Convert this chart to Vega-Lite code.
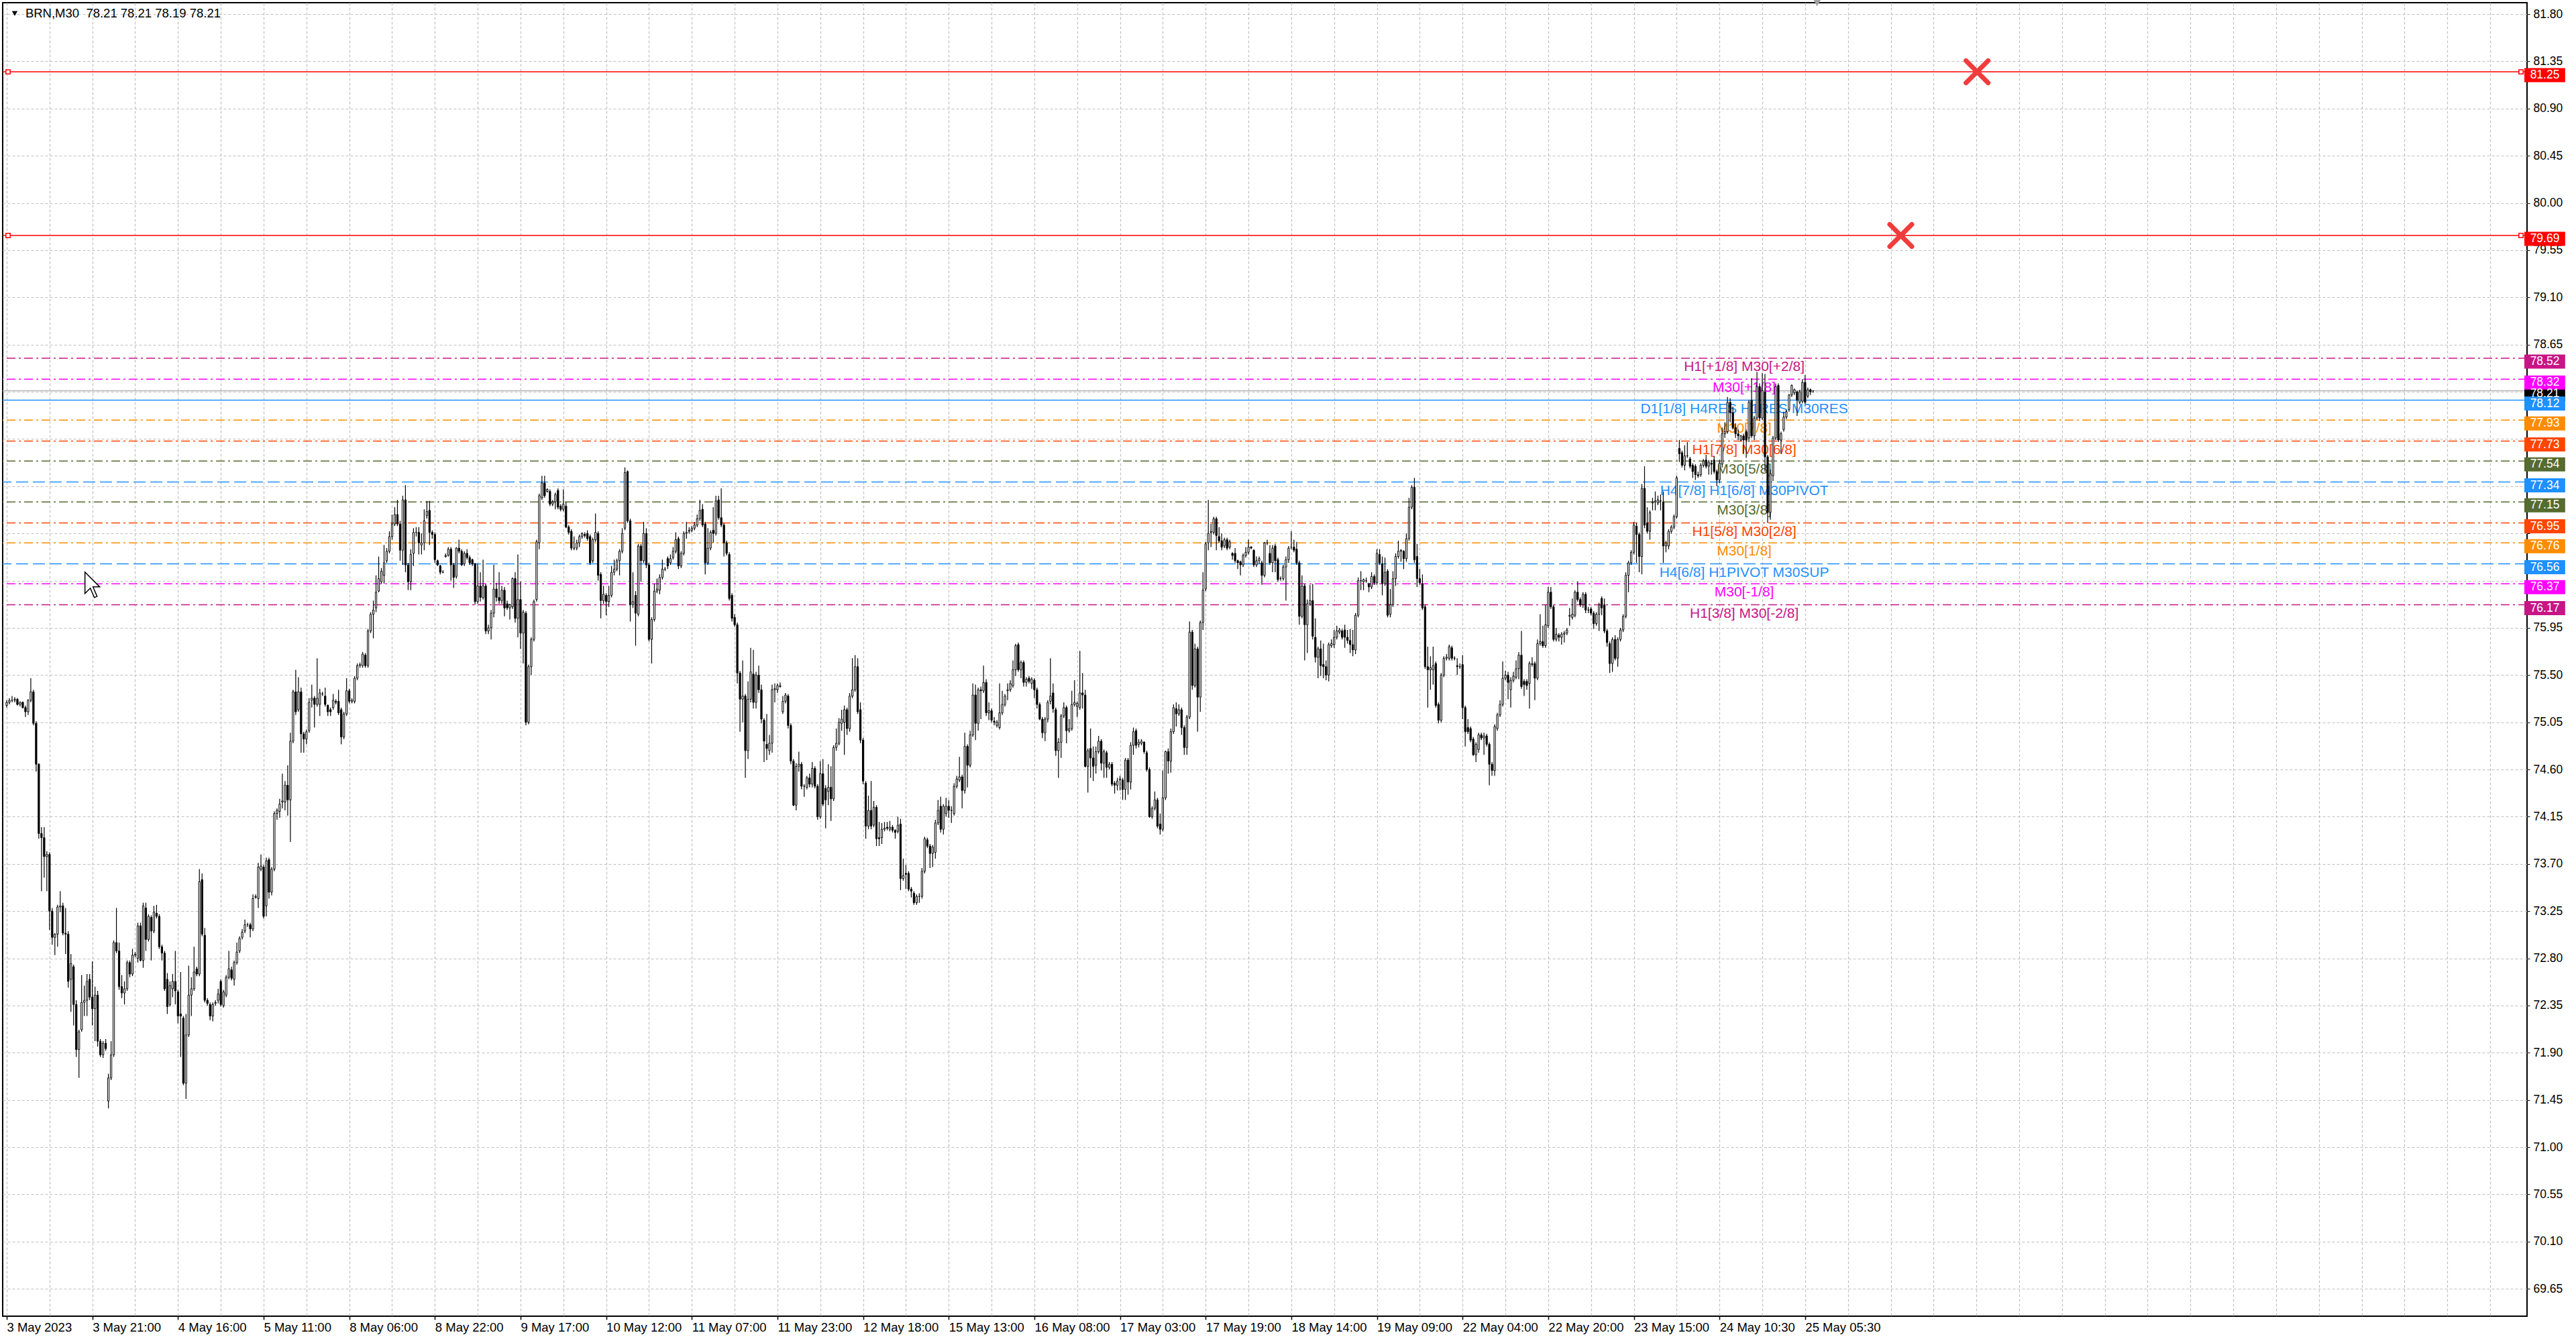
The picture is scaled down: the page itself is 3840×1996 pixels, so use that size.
{
  "$schema": "https://vega.github.io/schema/vega-lite/v6.json",
  "width": 3763,
  "height": 1958,
  "autosize": {"type": "none"},
  "padding": {"left": 4, "top": 4, "right": 73, "bottom": 34},
  "background": "#ffffff",
  "config": {"view": {"stroke": "#000000", "strokeWidth": 2}},
  "datasets": {
    "levels": [
      {"p": 78.21, "kind": "bid"},
      {"p": 81.25, "kind": "alert"},
      {"p": 79.69, "kind": "alert"},
      {"p": 78.52, "kind": "ext2", "label": "H1[+1/8] M30[+2/8]"},
      {"p": 78.32, "kind": "ext1", "label": "M30[+1/8]"},
      {"p": 78.12, "kind": "res", "label": "D1[1/8] H4RES H1RES M30RES"},
      {"p": 77.93, "kind": "m7", "label": "M30[7/8]"},
      {"p": 77.73, "kind": "m6", "label": "H1[7/8] M30[6/8]"},
      {"p": 77.54, "kind": "m5", "label": "M30[5/8]"},
      {"p": 77.34, "kind": "piv", "label": "H4[7/8] H1[6/8] M30PIVOT"},
      {"p": 77.15, "kind": "m5", "label": "M30[3/8]"},
      {"p": 76.95, "kind": "m6", "label": "H1[5/8] M30[2/8]"},
      {"p": 76.76, "kind": "m7", "label": "M30[1/8]"},
      {"p": 76.56, "kind": "piv", "label": "H4[6/8] H1PIVOT M30SUP"},
      {"p": 76.37, "kind": "ext1", "label": "M30[-1/8]"},
      {"p": 76.17, "kind": "ext2", "label": "H1[3/8] M30[-2/8]"}
    ],
    "anchors": [
      {"i": 0.5, "p": 81.25}, {"i": 939.5, "p": 81.25},
      {"i": 0.5, "p": 79.69}, {"i": 939.5, "p": 79.69}
    ],
    "crosses": [
      {"i": 736.25, "p": 81.25},
      {"i": 707.75, "p": 79.69}
    ],
    "bars": [
{"i":0,"o":75.21,"h":75.26,"l":75.19,"c":75.24},
{"i":1,"o":75.24,"h":75.28,"l":75.22,"c":75.26},
{"i":2,"o":75.26,"h":75.30,"l":75.24,"c":75.26},
{"i":3,"o":75.26,"h":75.29,"l":75.24,"c":75.27},
{"i":4,"o":75.27,"h":75.28,"l":75.21,"c":75.22},
{"i":5,"o":75.22,"h":75.25,"l":75.20,"c":75.24},
{"i":6,"o":75.24,"h":75.25,"l":75.18,"c":75.19},
{"i":7,"o":75.19,"h":75.21,"l":75.10,"c":75.15},
{"i":8,"o":75.15,"h":75.27,"l":75.12,"c":75.26},
{"i":9,"o":75.26,"h":75.47,"l":75.24,"c":75.34},
{"i":10,"o":75.34,"h":75.36,"l":75.02,"c":75.04},
{"i":11,"o":75.04,"h":75.06,"l":74.58,"c":74.65},
{"i":12,"o":74.65,"h":74.66,"l":73.94,"c":73.99},
{"i":13,"o":73.99,"h":74.05,"l":73.44,"c":73.95},
{"i":14,"o":73.95,"h":74.05,"l":73.57,"c":73.77},
{"i":15,"o":73.77,"h":73.82,"l":73.44,"c":73.79},
{"i":16,"o":73.79,"h":73.81,"l":73.07,"c":73.25},
{"i":17,"o":73.25,"h":73.28,"l":72.93,"c":73.00},
{"i":18,"o":73.00,"h":73.04,"l":72.83,"c":73.03},
{"i":19,"o":73.03,"h":73.31,"l":72.91,"c":73.29},
{"i":20,"o":73.29,"h":73.44,"l":73.24,"c":73.30},
{"i":21,"o":73.30,"h":73.33,"l":73.02,"c":73.04},
{"i":22,"o":73.04,"h":73.28,"l":72.84,"c":73.03},
{"i":23,"o":73.03,"h":73.06,"l":72.52,"c":72.58},
{"i":24,"o":72.60,"h":72.84,"l":72.29,"c":72.75},
{"i":25,"o":72.72,"h":72.74,"l":72.16,"c":72.36},
{"i":26,"o":72.36,"h":72.40,"l":71.86,"c":71.93},
{"i":27,"o":71.93,"h":72.12,"l":71.66,"c":72.10},
{"i":28,"o":72.12,"h":72.64,"l":72.10,"c":72.38},
{"i":29,"o":72.38,"h":72.54,"l":72.25,"c":72.40},
{"i":30,"o":72.40,"h":72.65,"l":72.25,"c":72.58},
{"i":31,"o":72.60,"h":72.65,"l":72.40,"c":72.43},
{"i":32,"o":72.43,"h":72.77,"l":72.16,"c":72.32},
{"i":33,"o":72.32,"h":72.53,"l":72.01,"c":72.45},
{"i":34,"o":72.45,"h":72.49,"l":71.96,"c":72.01},
{"i":35,"o":72.01,"h":72.03,"l":71.86,"c":71.88},
{"i":36,"o":71.88,"h":72.01,"l":71.85,"c":71.99},
{"i":37,"o":71.99,"h":72.03,"l":71.92,"c":71.94},
{"i":38,"o":71.44,"h":71.70,"l":71.37,"c":71.66},
{"i":39,"o":71.66,"h":72.01,"l":71.64,"c":71.88},
{"i":40,"o":71.88,"h":72.97,"l":71.86,"c":72.95},
{"i":41,"o":72.95,"h":73.28,"l":72.85,"c":72.87},
{"i":42,"o":72.87,"h":72.95,"l":72.50,"c":72.53},
{"i":43,"o":72.53,"h":72.64,"l":72.42,"c":72.47},
{"i":44,"o":72.47,"h":72.58,"l":72.36,"c":72.51},
{"i":45,"o":72.51,"h":72.78,"l":72.49,"c":72.76},
{"i":46,"o":72.76,"h":72.78,"l":72.62,"c":72.65},
{"i":47,"o":72.65,"h":72.89,"l":72.63,"c":72.83},
{"i":48,"o":72.83,"h":72.86,"l":72.81,"c":72.84},
{"i":49,"o":72.80,"h":73.14,"l":72.76,"c":73.11},
{"i":50,"o":73.11,"h":73.14,"l":72.77,"c":72.78},
{"i":51,"o":72.78,"h":73.33,"l":72.71,"c":73.30},
{"i":52,"o":73.28,"h":73.33,"l":72.87,"c":72.98},
{"i":53,"o":72.98,"h":73.22,"l":72.96,"c":73.20},
{"i":54,"o":73.19,"h":73.21,"l":72.78,"c":73.06},
{"i":55,"o":73.06,"h":73.30,"l":73.04,"c":73.24},
{"i":56,"o":73.23,"h":73.31,"l":73.18,"c":73.20},
{"i":57,"o":73.20,"h":73.22,"l":72.89,"c":72.91},
{"i":58,"o":72.91,"h":72.93,"l":72.78,"c":72.85},
{"i":59,"o":72.85,"h":72.87,"l":72.49,"c":72.51},
{"i":60,"o":72.60,"h":72.66,"l":72.27,"c":72.34},
{"i":61,"o":72.36,"h":72.58,"l":72.34,"c":72.54},
{"i":62,"o":72.51,"h":72.65,"l":72.43,"c":72.58},
{"i":63,"o":72.58,"h":72.87,"l":72.36,"c":72.49},
{"i":64,"o":72.48,"h":72.50,"l":72.18,"c":72.25},
{"i":65,"o":72.27,"h":72.67,"l":71.86,"c":72.25},
{"i":66,"o":72.23,"h":72.25,"l":71.59,"c":71.61},
{"i":67,"o":71.61,"h":72.27,"l":71.46,"c":72.07},
{"i":68,"o":72.07,"h":72.73,"l":72.05,"c":72.45},
{"i":69,"o":72.45,"h":72.62,"l":72.25,"c":72.51},
{"i":70,"o":72.51,"h":72.91,"l":72.49,"c":72.67},
{"i":71,"o":72.70,"h":72.72,"l":72.63,"c":72.65},
{"i":72,"o":72.65,"h":73.65,"l":72.63,"c":73.53},
{"i":73,"o":73.55,"h":73.61,"l":73.01,"c":73.03},
{"i":74,"o":73.02,"h":73.09,"l":72.38,"c":72.40},
{"i":75,"o":72.40,"h":72.42,"l":72.35,"c":72.37},
{"i":76,"o":72.36,"h":72.38,"l":72.21,"c":72.25},
{"i":77,"o":72.25,"h":72.38,"l":72.20,"c":72.36},
{"i":78,"o":72.37,"h":72.40,"l":72.35,"c":72.38},
{"i":79,"o":72.40,"h":72.51,"l":72.37,"c":72.46},
{"i":80,"o":72.58,"h":72.60,"l":72.34,"c":72.36},
{"i":81,"o":72.35,"h":72.50,"l":72.33,"c":72.48},
{"i":82,"o":72.45,"h":72.64,"l":72.43,"c":72.62},
{"i":83,"o":72.62,"h":72.87,"l":72.60,"c":72.70},
{"i":84,"o":72.69,"h":72.72,"l":72.59,"c":72.61},
{"i":85,"o":72.60,"h":72.78,"l":72.54,"c":72.76},
{"i":86,"o":72.76,"h":72.95,"l":72.74,"c":72.86},
{"i":87,"o":72.87,"h":73.01,"l":72.85,"c":72.99},
{"i":88,"o":73.00,"h":73.08,"l":72.98,"c":73.05},
{"i":89,"o":73.06,"h":73.17,"l":73.04,"c":73.12},
{"i":90,"o":73.12,"h":73.14,"l":73.10,"c":73.12},
{"i":91,"o":73.12,"h":73.14,"l":73.00,"c":73.08},
{"i":92,"o":73.08,"h":73.41,"l":73.06,"c":73.37},
{"i":93,"o":73.38,"h":73.41,"l":73.37,"c":73.39},
{"i":94,"o":73.37,"h":73.71,"l":73.28,"c":73.67},
{"i":95,"o":73.65,"h":73.79,"l":73.63,"c":73.68},
{"i":96,"o":73.67,"h":73.69,"l":73.18,"c":73.20},
{"i":97,"o":73.30,"h":73.76,"l":73.20,"c":73.73},
{"i":98,"o":73.74,"h":73.76,"l":73.37,"c":73.43},
{"i":99,"o":73.43,"h":73.67,"l":73.40,"c":73.65},
{"i":100,"o":73.65,"h":74.20,"l":73.63,"c":74.18},
{"i":101,"o":74.18,"h":74.23,"l":74.12,"c":74.21},
{"i":102,"o":74.20,"h":74.32,"l":74.14,"c":74.27},
{"i":103,"o":74.29,"h":74.56,"l":74.23,"c":74.30},
{"i":104,"o":74.29,"h":74.49,"l":74.21,"c":74.45},
{"i":105,"o":74.45,"h":74.64,"l":74.16,"c":74.31},
{"i":106,"o":74.31,"h":74.95,"l":73.91,"c":74.87},
{"i":107,"o":74.87,"h":75.36,"l":74.85,"c":75.34},
{"i":108,"o":75.34,"h":75.55,"l":75.12,"c":75.15},
{"i":109,"o":75.17,"h":75.48,"l":75.15,"c":75.34},
{"i":110,"o":75.34,"h":75.38,"l":74.76,"c":74.94},
{"i":111,"o":74.94,"h":74.96,"l":74.76,"c":74.89},
{"i":112,"o":74.89,"h":74.98,"l":74.84,"c":74.96},
{"i":113,"o":74.97,"h":75.28,"l":74.95,"c":75.24},
{"i":114,"o":75.26,"h":75.41,"l":75.19,"c":75.28},
{"i":115,"o":75.28,"h":75.30,"l":75.00,"c":75.22},
{"i":116,"o":75.22,"h":75.66,"l":75.20,"c":75.28},
{"i":117,"o":75.22,"h":75.37,"l":75.11,"c":75.33},
{"i":118,"o":75.32,"h":75.34,"l":75.30,"c":75.32},
{"i":119,"o":75.30,"h":75.38,"l":75.20,"c":75.22},
{"i":120,"o":75.21,"h":75.22,"l":75.11,"c":75.15},
{"i":121,"o":75.17,"h":75.19,"l":75.11,"c":75.15},
{"i":122,"o":75.19,"h":75.32,"l":75.17,"c":75.26},
{"i":123,"o":75.25,"h":75.27,"l":75.22,"c":75.24},
{"i":124,"o":75.25,"h":75.36,"l":75.12,"c":75.14},
{"i":125,"o":75.17,"h":75.19,"l":74.84,"c":74.91},
{"i":126,"o":74.91,"h":75.15,"l":74.89,"c":75.13},
{"i":127,"o":75.13,"h":75.47,"l":75.11,"c":75.35},
{"i":128,"o":75.35,"h":75.37,"l":75.23,"c":75.25},
{"i":129,"o":75.25,"h":75.28,"l":75.23,"c":75.26},
{"i":130,"o":75.25,"h":75.49,"l":75.23,"c":75.47},
{"i":131,"o":75.47,"h":75.61,"l":75.45,"c":75.59},
{"i":132,"o":75.59,"h":75.62,"l":75.57,"c":75.60},
{"i":133,"o":75.59,"h":75.72,"l":75.57,"c":75.70},
{"i":134,"o":75.69,"h":75.71,"l":75.57,"c":75.59},
{"i":135,"o":75.59,"h":75.94,"l":75.57,"c":75.92},
{"i":136,"o":75.92,"h":76.10,"l":75.90,"c":76.08},
{"i":137,"o":76.08,"h":76.21,"l":75.85,"c":76.12},
{"i":138,"o":76.14,"h":76.45,"l":76.10,"c":76.29},
{"i":139,"o":76.30,"h":76.63,"l":76.29,"c":76.42},
{"i":140,"o":76.39,"h":76.52,"l":76.37,"c":76.49},
{"i":141,"o":76.45,"h":76.74,"l":76.37,"c":76.57},
{"i":142,"o":76.59,"h":76.71,"l":76.57,"c":76.68},
{"i":143,"o":76.68,"h":76.87,"l":76.66,"c":76.82},
{"i":144,"o":76.82,"h":77.03,"l":76.79,"c":76.94},
{"i":145,"o":76.94,"h":77.10,"l":76.92,"c":77.03},
{"i":146,"o":77.03,"h":77.17,"l":76.92,"c":76.94},
{"i":147,"o":76.94,"h":76.97,"l":76.59,"c":76.69},
{"i":148,"o":76.69,"h":77.21,"l":76.55,"c":77.17},
{"i":149,"o":77.17,"h":77.31,"l":76.48,"c":76.55},
{"i":150,"o":76.55,"h":76.57,"l":76.31,"c":76.39},
{"i":151,"o":76.39,"h":76.70,"l":76.31,"c":76.65},
{"i":152,"o":76.66,"h":76.90,"l":76.54,"c":76.86},
{"i":153,"o":76.86,"h":76.91,"l":76.82,"c":76.86},
{"i":154,"o":76.86,"h":76.91,"l":76.65,"c":76.76},
{"i":155,"o":76.74,"h":76.85,"l":76.65,"c":76.76},
{"i":156,"o":76.76,"h":77.08,"l":76.69,"c":76.97},
{"i":157,"o":77.02,"h":77.16,"l":76.99,"c":77.06},
{"i":158,"o":77.07,"h":77.16,"l":76.74,"c":76.86},
{"i":159,"o":76.86,"h":76.88,"l":76.80,"c":76.84},
{"i":160,"o":76.84,"h":76.86,"l":76.57,"c":76.60},
{"i":161,"o":76.59,"h":76.60,"l":76.54,"c":76.55},
{"i":162,"o":76.54,"h":76.55,"l":76.46,"c":76.48},
{"i":163,"o":76.48,"h":76.50,"l":76.47,"c":76.48},
{"i":164,"o":76.63,"h":76.66,"l":76.62,"c":76.64},
{"i":165,"o":76.64,"h":76.72,"l":76.63,"c":76.70},
{"i":166,"o":76.70,"h":76.72,"l":76.40,"c":76.55},
{"i":167,"o":76.55,"h":76.57,"l":76.33,"c":76.43},
{"i":168,"o":76.44,"h":76.72,"l":76.42,"c":76.71},
{"i":169,"o":76.71,"h":76.79,"l":76.66,"c":76.68},
{"i":170,"o":76.68,"h":76.70,"l":76.54,"c":76.55},
{"i":171,"o":76.56,"h":76.68,"l":76.54,"c":76.66},
{"i":172,"o":76.66,"h":76.70,"l":76.60,"c":76.62},
{"i":173,"o":76.62,"h":76.64,"l":76.55,"c":76.57},
{"i":174,"o":76.60,"h":76.61,"l":76.54,"c":76.56},
{"i":175,"o":76.56,"h":76.57,"l":76.17,"c":76.20},
{"i":176,"o":76.20,"h":76.56,"l":76.18,"c":76.35},
{"i":177,"o":76.35,"h":76.48,"l":76.20,"c":76.24},
{"i":178,"o":76.24,"h":76.60,"l":76.22,"c":76.35},
{"i":179,"o":76.35,"h":76.37,"l":75.89,"c":75.92},
{"i":180,"o":75.92,"h":75.98,"l":75.89,"c":75.95},
{"i":181,"o":75.95,"h":76.12,"l":75.84,"c":76.09},
{"i":182,"o":76.09,"h":76.55,"l":76.05,"c":76.32},
{"i":183,"o":76.32,"h":76.38,"l":76.20,"c":76.24},
{"i":184,"o":76.24,"h":76.48,"l":76.18,"c":76.21},
{"i":185,"o":76.21,"h":76.35,"l":76.18,"c":76.31},
{"i":186,"o":76.31,"h":76.34,"l":76.06,"c":76.14},
{"i":187,"o":76.18,"h":76.21,"l":76.12,"c":76.14},
{"i":188,"o":76.14,"h":76.18,"l":76.03,"c":76.17},
{"i":189,"o":76.15,"h":76.43,"l":76.13,"c":76.42},
{"i":190,"o":76.42,"h":76.48,"l":76.00,"c":76.04},
{"i":191,"o":76.04,"h":76.65,"l":75.86,"c":76.22},
{"i":192,"o":76.22,"h":76.39,"l":75.75,"c":75.90},
{"i":193,"o":75.90,"h":76.12,"l":75.61,"c":76.10},
{"i":194,"o":76.09,"h":76.11,"l":75.02,"c":75.05},
{"i":195,"o":75.05,"h":75.60,"l":75.03,"c":75.58},
{"i":196,"o":75.58,"h":75.86,"l":75.50,"c":75.84},
{"i":197,"o":75.84,"h":76.22,"l":75.82,"c":76.20},
{"i":198,"o":76.22,"h":76.79,"l":76.20,"c":76.77},
{"i":199,"o":76.76,"h":77.23,"l":76.70,"c":77.21},
{"i":200,"o":77.19,"h":77.40,"l":77.17,"c":77.33},
{"i":201,"o":77.33,"h":77.40,"l":77.19,"c":77.21},
{"i":202,"o":77.25,"h":77.28,"l":77.24,"c":77.27},
{"i":203,"o":77.25,"h":77.27,"l":77.11,"c":77.13},
{"i":204,"o":77.13,"h":77.17,"l":77.11,"c":77.15},
{"i":205,"o":77.15,"h":77.24,"l":77.08,"c":77.22},
{"i":206,"o":77.26,"h":77.28,"l":77.08,"c":77.10},
{"i":207,"o":77.11,"h":77.13,"l":77.06,"c":77.08},
{"i":208,"o":77.08,"h":77.27,"l":77.06,"c":77.13},
{"i":209,"o":77.11,"h":77.15,"l":76.90,"c":76.91},
{"i":210,"o":76.91,"h":76.93,"l":76.84,"c":76.86},
{"i":211,"o":76.87,"h":76.89,"l":76.69,"c":76.71},
{"i":212,"o":76.71,"h":76.82,"l":76.69,"c":76.71},
{"i":213,"o":76.71,"h":76.79,"l":76.69,"c":76.76},
{"i":214,"o":76.76,"h":76.84,"l":76.72,"c":76.82},
{"i":215,"o":76.82,"h":76.86,"l":76.80,"c":76.85},
{"i":216,"o":76.84,"h":76.86,"l":76.81,"c":76.83},
{"i":217,"o":76.85,"h":76.88,"l":76.78,"c":76.80},
{"i":218,"o":76.82,"h":76.84,"l":76.55,"c":76.57},
{"i":219,"o":76.59,"h":76.81,"l":76.57,"c":76.79},
{"i":220,"o":76.79,"h":77.04,"l":76.77,"c":76.86},
{"i":221,"o":76.85,"h":76.87,"l":76.40,"c":76.45},
{"i":222,"o":76.46,"h":76.48,"l":76.04,"c":76.21},
{"i":223,"o":76.21,"h":76.35,"l":76.18,"c":76.27},
{"i":224,"o":76.26,"h":76.28,"l":76.07,"c":76.20},
{"i":225,"o":76.20,"h":76.35,"l":76.15,"c":76.26},
{"i":226,"o":76.26,"h":76.54,"l":76.24,"c":76.48},
{"i":227,"o":76.48,"h":76.60,"l":76.45,"c":76.51},
{"i":228,"o":76.51,"h":76.61,"l":76.49,"c":76.59},
{"i":229,"o":76.59,"h":76.70,"l":76.45,"c":76.68},
{"i":230,"o":76.68,"h":76.90,"l":76.66,"c":76.85},
{"i":231,"o":76.90,"h":77.48,"l":76.88,"c":77.43},
{"i":232,"o":77.44,"h":77.45,"l":76.95,"c":76.97},
{"i":233,"o":76.97,"h":76.99,"l":76.01,"c":76.17},
{"i":234,"o":76.17,"h":76.48,"l":76.14,"c":76.20},
{"i":235,"o":76.26,"h":76.30,"l":75.78,"c":76.09},
{"i":236,"o":76.08,"h":76.75,"l":76.06,"c":76.73},
{"i":237,"o":76.73,"h":76.75,"l":76.39,"c":76.59},
{"i":238,"o":76.59,"h":76.96,"l":76.57,"c":76.85},
{"i":239,"o":76.85,"h":76.90,"l":76.52,"c":76.55},
{"i":240,"o":76.55,"h":76.57,"l":75.82,"c":75.84},
{"i":241,"o":75.84,"h":76.05,"l":75.61,"c":76.03},
{"i":242,"o":76.03,"h":76.37,"l":76.01,"c":76.30},
{"i":243,"o":76.30,"h":76.42,"l":76.28,"c":76.32},
{"i":244,"o":76.31,"h":76.46,"l":76.27,"c":76.43},
{"i":245,"o":76.43,"h":76.60,"l":76.41,"c":76.51},
{"i":246,"o":76.51,"h":76.53,"l":76.49,"c":76.51},
{"i":247,"o":76.61,"h":76.63,"l":76.51,"c":76.54},
{"i":248,"o":76.57,"h":76.65,"l":76.55,"c":76.61},
{"i":249,"o":76.62,"h":76.72,"l":76.60,"c":76.68},
{"i":250,"o":76.68,"h":76.86,"l":76.66,"c":76.79},
{"i":251,"o":76.80,"h":76.82,"l":76.51,"c":76.54},
{"i":252,"o":76.54,"h":76.68,"l":76.52,"c":76.66},
{"i":253,"o":76.66,"h":76.87,"l":76.64,"c":76.85},
{"i":254,"o":76.85,"h":76.96,"l":76.80,"c":76.86},
{"i":255,"o":76.87,"h":76.91,"l":76.85,"c":76.88},
{"i":256,"o":76.88,"h":76.92,"l":76.86,"c":76.90},
{"i":257,"o":76.90,"h":76.96,"l":76.88,"c":76.93},
{"i":258,"o":76.93,"h":77.03,"l":76.91,"c":76.99},
{"i":259,"o":76.99,"h":77.17,"l":76.97,"c":77.07},
{"i":260,"o":77.08,"h":77.13,"l":76.91,"c":76.93},
{"i":261,"o":76.94,"h":76.96,"l":76.46,"c":76.57},
{"i":262,"o":76.57,"h":76.90,"l":76.55,"c":76.71},
{"i":263,"o":76.71,"h":76.88,"l":76.69,"c":76.86},
{"i":264,"o":76.88,"h":77.10,"l":76.76,"c":76.85},
{"i":265,"o":76.85,"h":77.21,"l":76.83,"c":77.16},
{"i":266,"o":77.17,"h":77.21,"l":76.98,"c":77.00},
{"i":267,"o":77.00,"h":77.28,"l":76.91,"c":76.93},
{"i":268,"o":76.93,"h":76.95,"l":76.63,"c":76.76},
{"i":269,"o":76.76,"h":76.78,"l":76.64,"c":76.66},
{"i":270,"o":76.65,"h":76.67,"l":76.21,"c":76.23},
{"i":271,"o":76.26,"h":76.28,"l":76.01,"c":76.04},
{"i":272,"o":76.05,"h":76.08,"l":75.96,"c":75.98},
{"i":273,"o":75.98,"h":76.00,"l":75.42,"c":75.52},
{"i":274,"o":75.52,"h":75.54,"l":74.96,"c":75.27},
{"i":275,"o":75.27,"h":75.64,"l":75.05,"c":75.30},
{"i":276,"o":75.30,"h":75.32,"l":74.52,"c":74.78},
{"i":277,"o":74.78,"h":75.44,"l":74.70,"c":75.27},
{"i":278,"o":75.27,"h":75.76,"l":75.24,"c":75.53},
{"i":279,"o":75.51,"h":75.74,"l":75.18,"c":75.24},
{"i":280,"o":75.24,"h":75.53,"l":75.18,"c":75.50},
{"i":281,"o":75.50,"h":75.59,"l":75.33,"c":75.36},
{"i":282,"o":75.36,"h":75.41,"l":75.04,"c":75.08},
{"i":283,"o":75.07,"h":75.09,"l":74.67,"c":74.87},
{"i":284,"o":74.84,"h":75.13,"l":74.69,"c":74.80},
{"i":285,"o":74.78,"h":74.93,"l":74.74,"c":74.85},
{"i":286,"o":74.85,"h":75.41,"l":74.76,"c":75.36},
{"i":287,"o":75.36,"h":75.42,"l":75.24,"c":75.37},
{"i":288,"o":75.36,"h":75.42,"l":75.33,"c":75.40},
{"i":289,"o":75.39,"h":75.43,"l":75.38,"c":75.40},
{"i":290,"o":75.15,"h":75.30,"l":75.13,"c":75.25},
{"i":291,"o":75.25,"h":75.33,"l":75.23,"c":75.31},
{"i":292,"o":75.30,"h":75.32,"l":74.99,"c":75.02},
{"i":293,"o":75.02,"h":75.04,"l":74.65,"c":74.68},
{"i":294,"o":74.68,"h":74.70,"l":74.25,"c":74.26},
{"i":295,"o":74.26,"h":74.66,"l":74.21,"c":74.63},
{"i":296,"o":74.63,"h":74.77,"l":74.58,"c":74.65},
{"i":297,"o":74.65,"h":74.67,"l":74.41,"c":74.44},
{"i":298,"o":74.44,"h":74.46,"l":74.34,"c":74.44},
{"i":299,"o":74.43,"h":74.54,"l":74.41,"c":74.52},
{"i":300,"o":74.52,"h":74.56,"l":74.43,"c":74.46},
{"i":301,"o":74.46,"h":74.67,"l":74.43,"c":74.61},
{"i":302,"o":74.61,"h":74.63,"l":74.42,"c":74.44},
{"i":303,"o":74.44,"h":74.46,"l":74.12,"c":74.15},
{"i":304,"o":74.15,"h":74.68,"l":74.13,"c":74.56},
{"i":305,"o":74.56,"h":74.70,"l":74.25,"c":74.27},
{"i":306,"o":74.42,"h":74.45,"l":74.04,"c":74.31},
{"i":307,"o":74.39,"h":74.65,"l":74.26,"c":74.43},
{"i":308,"o":74.43,"h":74.63,"l":74.11,"c":74.32},
{"i":309,"o":74.32,"h":74.83,"l":74.30,"c":74.81},
{"i":310,"o":74.81,"h":74.99,"l":74.78,"c":74.85},
{"i":311,"o":74.85,"h":75.09,"l":74.83,"c":75.05},
{"i":312,"o":75.04,"h":75.17,"l":74.97,"c":75.08},
{"i":313,"o":75.05,"h":75.21,"l":74.74,"c":75.17},
{"i":314,"o":75.17,"h":75.19,"l":74.93,"c":74.99},
{"i":315,"o":74.99,"h":75.33,"l":74.96,"c":75.30},
{"i":316,"o":75.30,"h":75.66,"l":75.28,"c":75.36},
{"i":317,"o":75.36,"h":75.69,"l":75.34,"c":75.58},
{"i":318,"o":75.58,"h":75.66,"l":75.13,"c":75.15},
{"i":319,"o":75.17,"h":75.24,"l":74.85,"c":74.88},
{"i":320,"o":74.88,"h":74.90,"l":74.46,"c":74.49},
{"i":321,"o":74.47,"h":74.49,"l":73.94,"c":74.06},
{"i":322,"o":74.06,"h":74.35,"l":74.03,"c":74.21},
{"i":323,"o":74.21,"h":74.49,"l":74.03,"c":74.06},
{"i":324,"o":74.07,"h":74.30,"l":74.05,"c":74.24},
{"i":325,"o":74.24,"h":74.26,"l":73.87,"c":73.94},
{"i":326,"o":73.95,"h":74.10,"l":73.87,"c":73.94},
{"i":327,"o":73.95,"h":74.09,"l":73.89,"c":74.03},
{"i":328,"o":74.03,"h":74.10,"l":74.01,"c":74.04},
{"i":329,"o":74.05,"h":74.10,"l":74.02,"c":74.04},
{"i":330,"o":74.03,"h":74.11,"l":74.01,"c":74.05},
{"i":331,"o":74.05,"h":74.07,"l":74.00,"c":74.02},
{"i":332,"o":74.02,"h":74.03,"l":73.94,"c":74.00},
{"i":333,"o":74.01,"h":74.15,"l":73.99,"c":74.07},
{"i":334,"o":74.08,"h":74.13,"l":73.45,"c":73.56},
{"i":335,"o":73.56,"h":73.75,"l":73.54,"c":73.59},
{"i":336,"o":73.61,"h":73.69,"l":73.46,"c":73.60},
{"i":337,"o":73.61,"h":73.63,"l":73.44,"c":73.46},
{"i":338,"o":73.46,"h":73.48,"l":73.38,"c":73.44},
{"i":339,"o":73.42,"h":73.44,"l":73.31,"c":73.33},
{"i":340,"o":73.33,"h":73.41,"l":73.31,"c":73.39},
{"i":341,"o":73.39,"h":73.42,"l":73.33,"c":73.39},
{"i":342,"o":73.39,"h":73.66,"l":73.37,"c":73.63},
{"i":343,"o":73.63,"h":73.96,"l":73.61,"c":73.94},
{"i":344,"o":73.93,"h":73.95,"l":73.85,"c":73.87},
{"i":345,"o":73.87,"h":73.89,"l":73.66,"c":73.80},
{"i":346,"o":73.80,"h":73.88,"l":73.67,"c":73.86},
{"i":347,"o":73.81,"h":74.12,"l":73.75,"c":74.09},
{"i":348,"o":74.09,"h":74.31,"l":74.07,"c":74.21},
{"i":349,"o":74.25,"h":74.34,"l":74.00,"c":74.03},
{"i":350,"o":74.03,"h":74.27,"l":73.98,"c":74.25},
{"i":351,"o":74.18,"h":74.33,"l":74.15,"c":74.25},
{"i":352,"o":74.25,"h":74.31,"l":74.14,"c":74.21},
{"i":353,"o":74.21,"h":74.25,"l":74.09,"c":74.21},
{"i":354,"o":74.18,"h":74.47,"l":74.16,"c":74.44},
{"i":355,"o":74.44,"h":74.54,"l":74.42,"c":74.51},
{"i":356,"o":74.50,"h":74.72,"l":74.48,"c":74.53},
{"i":357,"o":74.53,"h":74.55,"l":74.23,"c":74.40},
{"i":358,"o":74.40,"h":74.95,"l":74.37,"c":74.82},
{"i":359,"o":74.82,"h":74.84,"l":74.43,"c":74.64},
{"i":360,"o":74.64,"h":74.97,"l":74.62,"c":74.93},
{"i":361,"o":74.93,"h":75.42,"l":74.91,"c":75.31},
{"i":362,"o":75.31,"h":75.41,"l":74.88,"c":75.04},
{"i":363,"o":75.04,"h":75.38,"l":74.97,"c":75.36},
{"i":364,"o":75.36,"h":75.39,"l":75.08,"c":75.35},
{"i":365,"o":75.35,"h":75.59,"l":75.33,"c":75.43},
{"i":366,"o":75.43,"h":75.46,"l":75.11,"c":75.14},
{"i":367,"o":75.14,"h":75.24,"l":75.07,"c":75.16},
{"i":368,"o":75.16,"h":75.18,"l":75.05,"c":75.07},
{"i":369,"o":75.06,"h":75.10,"l":75.02,"c":75.05},
{"i":370,"o":75.02,"h":75.07,"l":75.00,"c":75.05},
{"i":371,"o":75.00,"h":75.42,"l":74.98,"c":75.14},
{"i":372,"o":75.14,"h":75.35,"l":75.12,"c":75.22},
{"i":373,"o":75.22,"h":75.32,"l":75.20,"c":75.30},
{"i":374,"o":75.35,"h":75.42,"l":75.26,"c":75.36},
{"i":375,"o":75.36,"h":75.45,"l":75.34,"c":75.42},
{"i":376,"o":75.40,"h":75.64,"l":75.38,"c":75.55},
{"i":377,"o":75.55,"h":75.80,"l":75.49,"c":75.78},
{"i":378,"o":75.79,"h":75.81,"l":75.53,"c":75.55},
{"i":379,"o":75.55,"h":75.64,"l":75.47,"c":75.62},
{"i":380,"o":75.62,"h":75.64,"l":75.39,"c":75.43},
{"i":381,"o":75.43,"h":75.48,"l":75.39,"c":75.46},
{"i":382,"o":75.47,"h":75.49,"l":75.42,"c":75.44},
{"i":383,"o":75.42,"h":75.48,"l":75.37,"c":75.46},
{"i":384,"o":75.45,"h":75.47,"l":75.28,"c":75.36},
{"i":385,"o":75.36,"h":75.38,"l":75.18,"c":75.22},
{"i":386,"o":75.22,"h":75.24,"l":75.07,"c":75.08},
{"i":387,"o":75.08,"h":75.10,"l":74.90,"c":74.95},
{"i":388,"o":74.95,"h":75.10,"l":74.87,"c":75.08},
{"i":389,"o":75.08,"h":75.26,"l":75.05,"c":75.24},
{"i":390,"o":75.25,"h":75.66,"l":75.22,"c":75.30},
{"i":391,"o":75.33,"h":75.42,"l":75.14,"c":75.18},
{"i":392,"o":75.17,"h":75.19,"l":74.73,"c":74.78},
{"i":393,"o":74.78,"h":74.90,"l":74.52,"c":74.86},
{"i":394,"o":74.86,"h":75.13,"l":74.71,"c":75.11},
{"i":395,"o":75.11,"h":75.24,"l":75.09,"c":75.19},
{"i":396,"o":75.19,"h":75.21,"l":74.85,"c":74.97},
{"i":397,"o":74.97,"h":75.08,"l":74.95,"c":74.99},
{"i":398,"o":74.99,"h":75.35,"l":74.97,"c":75.22},
{"i":399,"o":75.22,"h":75.45,"l":75.20,"c":75.24},
{"i":400,"o":75.20,"h":75.25,"l":75.10,"c":75.23},
{"i":401,"o":75.19,"h":75.73,"l":75.17,"c":75.33},
{"i":402,"o":75.33,"h":75.52,"l":75.18,"c":75.31},
{"i":403,"o":75.31,"h":75.36,"l":74.62,"c":74.63},
{"i":404,"o":74.63,"h":74.80,"l":74.38,"c":74.78},
{"i":405,"o":74.80,"h":74.99,"l":74.52,"c":74.71},
{"i":406,"o":74.71,"h":74.82,"l":74.49,"c":74.63},
{"i":407,"o":74.64,"h":74.82,"l":74.56,"c":74.77},
{"i":408,"o":74.77,"h":74.92,"l":74.75,"c":74.87},
{"i":409,"o":74.87,"h":74.89,"l":74.59,"c":74.66},
{"i":410,"o":74.66,"h":74.79,"l":74.52,"c":74.77},
{"i":411,"o":74.76,"h":74.78,"l":74.52,"c":74.62},
{"i":412,"o":74.62,"h":74.67,"l":74.60,"c":74.65},
{"i":413,"o":74.65,"h":74.67,"l":74.44,"c":74.46},
{"i":414,"o":74.47,"h":74.49,"l":74.37,"c":74.45},
{"i":415,"o":74.45,"h":74.52,"l":74.40,"c":74.49},
{"i":416,"o":74.50,"h":74.54,"l":74.40,"c":74.51},
{"i":417,"o":74.50,"h":74.52,"l":74.31,"c":74.41},
{"i":418,"o":74.41,"h":74.71,"l":74.31,"c":74.69},
{"i":419,"o":74.69,"h":74.71,"l":74.36,"c":74.48},
{"i":420,"o":74.48,"h":74.86,"l":74.41,"c":74.83},
{"i":421,"o":74.83,"h":75.00,"l":74.74,"c":74.96},
{"i":422,"o":74.97,"h":74.99,"l":74.80,"c":74.83},
{"i":423,"o":74.84,"h":74.89,"l":74.81,"c":74.86},
{"i":424,"o":74.85,"h":74.89,"l":74.83,"c":74.87},
{"i":425,"o":74.86,"h":74.87,"l":74.75,"c":74.77},
{"i":426,"o":74.76,"h":74.78,"l":74.58,"c":74.60},
{"i":427,"o":74.60,"h":74.62,"l":74.14,"c":74.15},
{"i":428,"o":74.15,"h":74.25,"l":74.13,"c":74.23},
{"i":429,"o":74.23,"h":74.39,"l":74.21,"c":74.31},
{"i":430,"o":74.31,"h":74.33,"l":74.04,"c":74.06},
{"i":431,"o":74.08,"h":74.18,"l":73.98,"c":74.03},
{"i":432,"o":74.03,"h":74.59,"l":74.01,"c":74.33},
{"i":433,"o":74.33,"h":74.78,"l":74.31,"c":74.77},
{"i":434,"o":74.77,"h":74.80,"l":74.56,"c":74.68},
{"i":435,"o":74.68,"h":74.99,"l":74.57,"c":74.96},
{"i":436,"o":74.96,"h":75.22,"l":74.94,"c":75.19},
{"i":437,"o":75.18,"h":75.24,"l":75.01,"c":75.13},
{"i":438,"o":75.13,"h":75.22,"l":75.11,"c":75.17},
{"i":439,"o":75.17,"h":75.19,"l":74.93,"c":75.00},
{"i":440,"o":75.00,"h":75.02,"l":74.74,"c":74.81},
{"i":441,"o":74.81,"h":75.12,"l":74.74,"c":75.10},
{"i":442,"o":75.10,"h":76.01,"l":75.08,"c":75.91},
{"i":443,"o":75.91,"h":75.93,"l":75.36,"c":75.40},
{"i":444,"o":75.40,"h":75.80,"l":75.38,"c":75.75},
{"i":445,"o":75.75,"h":75.77,"l":74.96,"c":75.29},
{"i":446,"o":75.29,"h":76.02,"l":75.15,"c":76.00},
{"i":447,"o":76.00,"h":76.48,"l":75.93,"c":76.31},
{"i":448,"o":76.32,"h":76.77,"l":76.30,"c":76.75},
{"i":449,"o":76.76,"h":77.17,"l":76.69,"c":76.85},
{"i":450,"o":76.86,"h":76.94,"l":76.72,"c":76.87},
{"i":451,"o":76.86,"h":77.01,"l":76.84,"c":76.99},
{"i":452,"o":76.99,"h":77.01,"l":76.69,"c":76.83},
{"i":453,"o":76.82,"h":76.91,"l":76.76,"c":76.78},
{"i":454,"o":76.78,"h":76.85,"l":76.69,"c":76.72},
{"i":455,"o":76.73,"h":76.81,"l":76.71,"c":76.79},
{"i":456,"o":76.79,"h":76.81,"l":76.69,"c":76.71},
{"i":457,"o":76.72,"h":76.79,"l":76.70,"c":76.77},
{"i":458,"o":76.66,"h":76.67,"l":76.60,"c":76.64},
{"i":459,"o":76.66,"h":76.71,"l":76.57,"c":76.59},
{"i":460,"o":76.59,"h":76.60,"l":76.51,"c":76.57},
{"i":461,"o":76.58,"h":76.59,"l":76.45,"c":76.55},
{"i":462,"o":76.55,"h":76.66,"l":76.53,"c":76.64},
{"i":463,"o":76.64,"h":76.72,"l":76.62,"c":76.67},
{"i":464,"o":76.67,"h":76.79,"l":76.65,"c":76.72},
{"i":465,"o":76.72,"h":76.73,"l":76.70,"c":76.71},
{"i":466,"o":76.69,"h":76.70,"l":76.53,"c":76.55},
{"i":467,"o":76.55,"h":76.63,"l":76.53,"c":76.59},
{"i":468,"o":76.59,"h":76.63,"l":76.56,"c":76.61},
{"i":469,"o":76.57,"h":76.59,"l":76.36,"c":76.45},
{"i":470,"o":76.45,"h":76.77,"l":76.43,"c":76.76},
{"i":471,"o":76.76,"h":76.79,"l":76.74,"c":76.76},
{"i":472,"o":76.66,"h":76.74,"l":76.55,"c":76.57},
{"i":473,"o":76.57,"h":76.74,"l":76.48,"c":76.71},
{"i":474,"o":76.73,"h":76.75,"l":76.48,"c":76.59},
{"i":475,"o":76.60,"h":76.62,"l":76.39,"c":76.41},
{"i":476,"o":76.42,"h":76.44,"l":76.40,"c":76.42},
{"i":477,"o":76.42,"h":76.55,"l":76.40,"c":76.53},
{"i":478,"o":76.53,"h":76.63,"l":76.21,"c":76.60},
{"i":479,"o":76.60,"h":76.73,"l":76.57,"c":76.71},
{"i":480,"o":76.72,"h":76.87,"l":76.70,"c":76.72},
{"i":481,"o":76.72,"h":76.79,"l":76.67,"c":76.69},
{"i":482,"o":76.70,"h":76.77,"l":76.55,"c":76.57},
{"i":483,"o":76.57,"h":76.59,"l":75.98,"c":76.06},
{"i":484,"o":76.06,"h":76.45,"l":76.04,"c":76.35},
{"i":485,"o":76.35,"h":76.37,"l":75.64,"c":75.98},
{"i":486,"o":75.98,"h":76.22,"l":75.71,"c":76.18},
{"i":487,"o":76.18,"h":76.36,"l":76.16,"c":76.21},
{"i":488,"o":76.21,"h":76.37,"l":75.84,"c":75.87},
{"i":489,"o":75.86,"h":76.04,"l":75.62,"c":75.67},
{"i":490,"o":75.67,"h":75.77,"l":75.47,"c":75.75},
{"i":491,"o":75.75,"h":75.83,"l":75.49,"c":75.59},
{"i":492,"o":75.60,"h":75.80,"l":75.47,"c":75.58},
{"i":493,"o":75.58,"h":75.64,"l":75.45,"c":75.50},
{"i":494,"o":75.50,"h":75.81,"l":75.44,"c":75.79},
{"i":495,"o":75.78,"h":75.84,"l":75.76,"c":75.80},
{"i":496,"o":75.79,"h":75.93,"l":75.76,"c":75.86},
{"i":497,"o":75.86,"h":75.97,"l":75.84,"c":75.92},
{"i":498,"o":75.91,"h":75.95,"l":75.89,"c":75.93},
{"i":499,"o":75.92,"h":75.94,"l":75.84,"c":75.86},
{"i":500,"o":75.93,"h":75.98,"l":75.76,"c":75.86},
{"i":501,"o":75.86,"h":75.93,"l":75.80,"c":75.83},
{"i":502,"o":75.83,"h":75.94,"l":75.71,"c":75.79},
{"i":503,"o":75.79,"h":75.93,"l":75.68,"c":75.74},
{"i":504,"o":75.74,"h":76.09,"l":75.70,"c":76.07},
{"i":505,"o":76.07,"h":76.43,"l":76.05,"c":76.40},
{"i":506,"o":76.40,"h":76.49,"l":76.31,"c":76.40},
{"i":507,"o":76.39,"h":76.42,"l":76.31,"c":76.41},
{"i":508,"o":76.40,"h":76.43,"l":76.38,"c":76.40},
{"i":509,"o":76.37,"h":76.38,"l":76.29,"c":76.34},
{"i":510,"o":76.34,"h":76.48,"l":76.32,"c":76.44},
{"i":511,"o":76.44,"h":76.46,"l":76.36,"c":76.38},
{"i":512,"o":76.38,"h":76.70,"l":76.36,"c":76.66},
{"i":513,"o":76.65,"h":76.70,"l":76.55,"c":76.57},
{"i":514,"o":76.56,"h":76.63,"l":76.26,"c":76.37},
{"i":515,"o":76.37,"h":76.62,"l":76.35,"c":76.48},
{"i":516,"o":76.49,"h":76.51,"l":76.05,"c":76.07},
{"i":517,"o":76.08,"h":76.32,"l":76.05,"c":76.17},
{"i":518,"o":76.17,"h":76.49,"l":76.15,"c":76.42},
{"i":519,"o":76.42,"h":76.66,"l":76.35,"c":76.63},
{"i":520,"o":76.63,"h":76.78,"l":76.61,"c":76.68},
{"i":521,"o":76.68,"h":76.70,"l":76.58,"c":76.69},
{"i":522,"o":76.68,"h":76.69,"l":76.51,"c":76.61},
{"i":523,"o":76.61,"h":76.85,"l":76.58,"c":76.80},
{"i":524,"o":76.80,"h":77.19,"l":76.78,"c":77.10},
{"i":525,"o":77.10,"h":77.31,"l":77.08,"c":77.29},
{"i":526,"o":77.29,"h":77.38,"l":76.57,"c":76.60},
{"i":527,"o":76.63,"h":76.75,"l":76.34,"c":76.42},
{"i":528,"o":76.42,"h":76.51,"l":76.36,"c":76.38},
{"i":529,"o":76.37,"h":76.46,"l":76.12,"c":76.14},
{"i":530,"o":76.15,"h":76.17,"l":75.56,"c":75.58},
{"i":531,"o":75.58,"h":75.77,"l":75.19,"c":75.55},
{"i":532,"o":75.55,"h":75.68,"l":75.36,"c":75.57},
{"i":533,"o":75.55,"h":75.77,"l":75.41,"c":75.59},
{"i":534,"o":75.61,"h":75.63,"l":75.19,"c":75.21},
{"i":535,"o":75.22,"h":75.24,"l":75.04,"c":75.07},
{"i":536,"o":75.07,"h":75.52,"l":75.05,"c":75.50},
{"i":537,"o":75.50,"h":75.68,"l":75.48,"c":75.66},
{"i":538,"o":75.66,"h":75.70,"l":75.64,"c":75.67},
{"i":539,"o":75.66,"h":75.79,"l":75.64,"c":75.77},
{"i":540,"o":75.76,"h":75.78,"l":75.64,"c":75.66},
{"i":541,"o":75.66,"h":75.68,"l":75.64,"c":75.66},
{"i":542,"o":75.59,"h":75.66,"l":75.50,"c":75.58},
{"i":543,"o":75.58,"h":75.61,"l":75.56,"c":75.58},
{"i":544,"o":75.60,"h":75.69,"l":75.08,"c":75.19},
{"i":545,"o":75.19,"h":75.21,"l":74.82,"c":74.96},
{"i":546,"o":75.00,"h":75.08,"l":74.94,"c":74.96},
{"i":547,"o":74.99,"h":75.01,"l":74.86,"c":74.88},
{"i":548,"o":74.89,"h":74.91,"l":74.73,"c":74.74},
{"i":549,"o":74.74,"h":74.86,"l":74.67,"c":74.84},
{"i":550,"o":74.79,"h":74.95,"l":74.76,"c":74.93},
{"i":551,"o":74.93,"h":74.95,"l":74.88,"c":74.90},
{"i":552,"o":74.90,"h":74.95,"l":74.74,"c":74.92},
{"i":553,"o":74.92,"h":74.94,"l":74.82,"c":74.84},
{"i":554,"o":74.84,"h":74.86,"l":74.45,"c":74.65},
{"i":555,"o":74.65,"h":74.67,"l":74.54,"c":74.59},
{"i":556,"o":74.59,"h":75.03,"l":74.54,"c":75.01},
{"i":557,"o":74.99,"h":75.14,"l":74.97,"c":75.12},
{"i":558,"o":75.12,"h":75.26,"l":75.10,"c":75.22},
{"i":559,"o":75.22,"h":75.63,"l":75.20,"c":75.47},
{"i":560,"o":75.47,"h":75.54,"l":75.45,"c":75.50},
{"i":561,"o":75.50,"h":75.53,"l":75.27,"c":75.43},
{"i":562,"o":75.36,"h":75.48,"l":75.19,"c":75.45},
{"i":563,"o":75.45,"h":75.53,"l":75.43,"c":75.49},
{"i":564,"o":75.48,"h":75.64,"l":75.46,"c":75.56},
{"i":565,"o":75.56,"h":75.72,"l":75.46,"c":75.69},
{"i":566,"o":75.69,"h":75.92,"l":75.37,"c":75.39},
{"i":567,"o":75.44,"h":75.46,"l":75.30,"c":75.41},
{"i":568,"o":75.44,"h":75.46,"l":75.36,"c":75.40},
{"i":569,"o":75.42,"h":75.63,"l":75.18,"c":75.61},
{"i":570,"o":75.60,"h":75.67,"l":75.58,"c":75.61},
{"i":571,"o":75.61,"h":75.63,"l":75.26,"c":75.47},
{"i":572,"o":75.47,"h":75.84,"l":75.45,"c":75.80},
{"i":573,"o":75.80,"h":76.08,"l":75.78,"c":75.82},
{"i":574,"o":75.82,"h":75.97,"l":75.76,"c":75.78},
{"i":575,"o":75.78,"h":76.17,"l":75.76,"c":75.98},
{"i":576,"o":75.97,"h":76.34,"l":75.95,"c":76.29},
{"i":577,"o":76.29,"h":76.34,"l":76.13,"c":76.15},
{"i":578,"o":76.15,"h":76.17,"l":75.82,"c":75.84},
{"i":579,"o":75.84,"h":75.95,"l":75.82,"c":75.89},
{"i":580,"o":75.88,"h":75.90,"l":75.82,"c":75.86},
{"i":581,"o":75.86,"h":75.91,"l":75.79,"c":75.89},
{"i":582,"o":75.89,"h":75.92,"l":75.81,"c":75.90},
{"i":583,"o":75.90,"h":75.95,"l":75.88,"c":75.93},
{"i":584,"o":76.06,"h":76.14,"l":75.97,"c":76.07},
{"i":585,"o":76.05,"h":76.23,"l":76.03,"c":76.08},
{"i":586,"o":76.07,"h":76.31,"l":76.05,"c":76.29},
{"i":587,"o":76.29,"h":76.39,"l":76.20,"c":76.22},
{"i":588,"o":76.22,"h":76.24,"l":76.15,"c":76.17},
{"i":589,"o":76.17,"h":76.29,"l":76.14,"c":76.27},
{"i":590,"o":76.27,"h":76.29,"l":76.09,"c":76.12},
{"i":591,"o":76.12,"h":76.15,"l":76.09,"c":76.12},
{"i":592,"o":76.13,"h":76.15,"l":76.07,"c":76.09},
{"i":593,"o":76.09,"h":76.11,"l":75.94,"c":75.99},
{"i":594,"o":75.99,"h":76.10,"l":75.97,"c":76.08},
{"i":595,"o":76.08,"h":76.19,"l":75.92,"c":76.17},
{"i":596,"o":76.23,"h":76.25,"l":76.07,"c":76.14},
{"i":597,"o":76.17,"h":76.23,"l":75.90,"c":75.92},
{"i":598,"o":75.92,"h":75.94,"l":75.77,"c":75.81},
{"i":599,"o":75.80,"h":75.82,"l":75.52,"c":75.61},
{"i":600,"o":75.61,"h":75.86,"l":75.53,"c":75.84},
{"i":601,"o":75.84,"h":75.88,"l":75.64,"c":75.66},
{"i":602,"o":75.66,"h":75.86,"l":75.58,"c":75.84},
{"i":603,"o":75.84,"h":75.95,"l":75.82,"c":75.93},
{"i":604,"o":75.93,"h":76.08,"l":75.91,"c":76.06},
{"i":605,"o":76.06,"h":76.48,"l":76.04,"c":76.45},
{"i":606,"o":76.45,"h":76.59,"l":76.29,"c":76.57},
{"i":607,"o":76.57,"h":76.69,"l":76.55,"c":76.67},
{"i":608,"o":76.67,"h":76.96,"l":76.65,"c":76.93},
{"i":609,"o":76.92,"h":76.95,"l":76.57,"c":76.84},
{"i":610,"o":76.84,"h":76.86,"l":76.48,"c":76.63},
{"i":611,"o":76.63,"h":77.32,"l":76.46,"c":77.28},
{"i":612,"o":77.28,"h":77.49,"l":76.90,"c":76.93},
{"i":613,"o":76.95,"h":77.10,"l":76.85,"c":76.87},
{"i":614,"o":76.87,"h":77.07,"l":76.79,"c":77.05},
{"i":615,"o":77.14,"h":77.19,"l":77.07,"c":77.15},
{"i":616,"o":77.15,"h":77.25,"l":77.07,"c":77.16},
{"i":617,"o":77.14,"h":77.21,"l":77.12,"c":77.17},
{"i":618,"o":77.16,"h":77.22,"l":77.07,"c":77.16},
{"i":619,"o":77.15,"h":77.25,"l":76.57,"c":76.73},
{"i":620,"o":76.73,"h":76.78,"l":76.67,"c":76.76},
{"i":621,"o":76.73,"h":76.89,"l":76.70,"c":76.87},
{"i":622,"o":76.87,"h":76.93,"l":76.85,"c":76.91},
{"i":623,"o":76.91,"h":77.03,"l":76.89,"c":77.01},
{"i":624,"o":77.01,"h":77.40,"l":76.99,"c":77.38},
{"i":625,"o":77.66,"h":77.74,"l":77.53,"c":77.61},
{"i":626,"o":77.62,"h":77.64,"l":77.48,"c":77.50},
{"i":627,"o":77.50,"h":77.69,"l":77.45,"c":77.59},
{"i":628,"o":77.59,"h":77.72,"l":77.57,"c":77.59},
{"i":629,"o":77.56,"h":77.58,"l":77.47,"c":77.49},
{"i":630,"o":77.50,"h":77.52,"l":77.38,"c":77.44},
{"i":631,"o":77.49,"h":77.51,"l":77.36,"c":77.41},
{"i":632,"o":77.41,"h":77.44,"l":77.38,"c":77.40},
{"i":633,"o":77.41,"h":77.52,"l":77.39,"c":77.50},
{"i":634,"o":77.50,"h":77.56,"l":77.48,"c":77.54},
{"i":635,"o":77.55,"h":77.60,"l":77.47,"c":77.49},
{"i":636,"o":77.49,"h":77.55,"l":77.41,"c":77.53},
{"i":637,"o":77.52,"h":77.55,"l":77.41,"c":77.51},
{"i":638,"o":77.55,"h":77.59,"l":77.42,"c":77.44},
{"i":639,"o":77.44,"h":77.46,"l":77.30,"c":77.36},
{"i":640,"o":77.36,"h":77.55,"l":77.33,"c":77.52},
{"i":641,"o":77.51,"h":77.86,"l":77.48,"c":77.80},
{"i":642,"o":77.80,"h":77.91,"l":77.76,"c":77.82},
{"i":643,"o":77.82,"h":78.15,"l":77.80,"c":78.10},
{"i":644,"o":78.10,"h":78.14,"l":77.91,"c":78.00},
{"i":645,"o":78.00,"h":78.06,"l":77.84,"c":77.86},
{"i":646,"o":77.86,"h":77.90,"l":77.76,"c":77.80},
{"i":647,"o":77.80,"h":77.84,"l":77.74,"c":77.78},
{"i":648,"o":77.74,"h":77.79,"l":77.73,"c":77.78},
{"i":649,"o":77.78,"h":77.80,"l":77.61,"c":77.74},
{"i":650,"o":77.82,"h":77.84,"l":77.57,"c":77.74},
{"i":651,"o":77.76,"h":78.12,"l":77.72,"c":78.10},
{"i":652,"o":78.12,"h":78.33,"l":77.76,"c":77.78},
{"i":653,"o":77.78,"h":77.97,"l":77.74,"c":77.95},
{"i":654,"o":77.95,"h":78.39,"l":77.93,"c":78.25},
{"i":655,"o":78.25,"h":78.28,"l":77.92,"c":77.95},
{"i":656,"o":77.95,"h":78.38,"l":77.93,"c":78.21},
{"i":657,"o":78.20,"h":78.37,"l":77.44,"c":77.58},
{"i":658,"o":77.58,"h":77.60,"l":76.95,"c":77.05},
{"i":659,"o":77.05,"h":77.46,"l":76.98,"c":77.42},
{"i":660,"o":77.40,"h":77.78,"l":77.35,"c":77.76},
{"i":661,"o":77.76,"h":78.28,"l":77.74,"c":78.25},
{"i":662,"o":78.26,"h":78.28,"l":77.72,"c":77.74},
{"i":663,"o":77.74,"h":77.82,"l":77.61,"c":77.80},
{"i":664,"o":77.84,"h":78.01,"l":77.82,"c":77.96},
{"i":665,"o":77.96,"h":78.03,"l":77.94,"c":78.01},
{"i":666,"o":78.03,"h":78.18,"l":78.01,"c":78.17},
{"i":667,"o":78.17,"h":78.27,"l":78.15,"c":78.26},
{"i":668,"o":78.19,"h":78.23,"l":78.17,"c":78.22},
{"i":669,"o":78.20,"h":78.21,"l":77.97,"c":78.12},
{"i":670,"o":78.10,"h":78.22,"l":78.08,"c":78.20},
{"i":671,"o":78.11,"h":78.32,"l":78.09,"c":78.29},
{"i":672,"o":78.29,"h":78.36,"l":78.08,"c":78.10},
{"i":673,"o":78.16,"h":78.24,"l":78.14,"c":78.22},
{"i":674,"o":78.22,"h":78.23,"l":78.17,"c":78.20},
{"i":675,"o":78.21,"h":78.21,"l":78.19,"c":78.21}
    ],
    "header": [{"t": "BRN,M30\u00a0\u00a078.21 78.21 78.19 78.21"}]
  },
  "layer": [
    {
      "data": {"name": "levels"},
      "mark": {"type": "rule", "strokeWidth": 1.5},
      "encoding": {
        "y": {
          "field": "p", "type": "quantitative",
          "scale": {"domain": [69.389, 81.909], "nice": false, "zero": false},
          "axis": {
            "orient": "right", "title": null, "domain": false, "zindex": 0,
            "values": [69.65,70.1,70.55,71,71.45,71.9,72.35,72.8,73.25,73.7,74.15,74.6,75.05,75.5,75.95,76.4,76.85,77.3,77.75,78.2,78.65,79.1,79.55,80,80.45,80.9,81.35,81.8],
            "labelExpr": "indexof([78.2, 77.75, 77.3, 76.85, 76.4], datum.value) >= 0 ? '' : format(datum.value, '.2f')",
            "grid": true, "gridColor": "#c0c0c0", "gridDash": [4, 3], "gridWidth": 1.2,
            "ticks": true, "tickSize": 4, "tickColor": "#000000", "tickWidth": 1,
            "labelPadding": 5, "labelFont": "Liberation Sans", "labelFontSize": 17.5, "labelColor": "#000000",
            "labelBaseline": "middle", "labelOverlap": false, "labelFlush": false, "labelBound": false
          }
        },
        "color": {
          "condition": {"test": "datum.kind === 'bid'", "value": "#b4b4b4"},
          "field": "kind", "type": "nominal", "legend": null,
          "scale": {"domain": ["alert", "bid", "ext2", "ext1", "res", "m7", "m6", "m5", "piv"], "range": ["#FF0000", "#000000", "#C71585", "#FF00FF", "#1E90FF", "#FF8C00", "#FF4500", "#556B2F", "#1E90FF"]}
        },
        "strokeDash": {
          "field": "kind", "type": "nominal", "legend": null,
          "scale": {"domain": ["alert", "bid", "ext2", "ext1", "res", "m7", "m6", "m5", "piv"], "range": [[1, 0], [1, 0], [13, 5, 3, 5], [13, 5, 3, 5], [1, 0], [13, 5, 3, 5], [13, 5, 3, 5], [13, 5, 3, 5], [18, 7]]}
        }
      }
    },
    {
      "data": {"name": "levels"},
      "transform": [{"filter": "datum.label"}],
      "mark": {"type": "text", "font": "Liberation Sans", "fontSize": 21, "align": "center", "baseline": "alphabetic", "dy": 19},
      "encoding": {
        "x": {
          "datum": 649.25, "type": "quantitative",
          "scale": {"domain": [-0.25, 940.5], "nice": false, "zero": false},
          "axis": {
            "values": [0,16,32,48,64,80,96,112,128,144,160,176,192,208,224,240,256,272,288,304,320,336,352,368,384,400,416,432,448,464,480,496,512,528,544,560,576,592,608,624,640,656,672,688,704,720,736,752,768,784,800,816,832,848,864,880,896,912,928],
            "title": null, "domain": false, "zindex": 0,
            "grid": true, "gridColor": "#c0c0c0", "gridDash": [4, 3], "gridWidth": 1.2,
            "ticks": true, "tickSize": 5, "tickWidth": 1.5,
            "tickColor": {"condition": {"test": "datum.value % 32 === 0 && datum.value <= 672", "value": "#000000"}, "value": "transparent"},
            "labelExpr": "datum.value % 32 === 0 && datum.value <= 672 ? ['3 May 2023','3 May 21:00','4 May 16:00','5 May 11:00','8 May 06:00','8 May 22:00','9 May 17:00','10 May 12:00','11 May 07:00','11 May 23:00','12 May 18:00','15 May 13:00','16 May 08:00','17 May 03:00','17 May 19:00','18 May 14:00','19 May 09:00','22 May 04:00','22 May 20:00','23 May 15:00','24 May 10:30','25 May 05:30'][datum.value / 32] : ''",
            "labelAlign": "left", "labelDx": 1, "labelBaseline": "alphabetic", "labelPadding": 17,
            "labelFont": "Liberation Sans", "labelFontSize": 18.5, "labelColor": "#000000",
            "labelOverlap": false, "labelFlush": false, "labelBound": false
          }
        },
        "y": {"field": "p", "type": "quantitative", "scale": {"domain": [69.389, 81.909], "nice": false, "zero": false}},
        "text": {"field": "label"},
        "color": {"field": "kind", "type": "nominal", "legend": null}
      }
    },
    {
      "data": {"name": "bars"},
      "mark": {"type": "rule", "color": "#000000", "strokeWidth": 1.2},
      "encoding": {
        "x": {"field": "i", "type": "quantitative", "scale": {"domain": [-0.25, 940.5], "nice": false, "zero": false}},
        "y": {"field": "l", "type": "quantitative", "scale": {"domain": [69.389, 81.909], "nice": false, "zero": false}},
        "y2": {"field": "h"}
      }
    },
    {
      "data": {"name": "bars"},
      "mark": {"type": "bar", "width": 2.2, "stroke": "#000000", "strokeWidth": 1},
      "encoding": {
        "x": {"field": "i", "type": "quantitative", "scale": {"domain": [-0.25, 940.5], "nice": false, "zero": false}},
        "y": {"field": "o", "type": "quantitative", "scale": {"domain": [69.389, 81.909], "nice": false, "zero": false}},
        "y2": {"field": "c"},
        "fill": {"condition": {"test": "datum.c >= datum.o", "value": "#ffffff"}, "value": "#000000"}
      }
    },
    {
      "data": {"name": "anchors"},
      "mark": {"type": "point", "shape": "square", "size": 40, "filled": true, "fill": "#ffffff", "stroke": "#FF0000", "strokeWidth": 1.5, "opacity": 1},
      "encoding": {
        "x": {"field": "i", "type": "quantitative", "scale": {"domain": [-0.25, 940.5], "nice": false, "zero": false}},
        "y": {"field": "p", "type": "quantitative", "scale": {"domain": [69.389, 81.909], "nice": false, "zero": false}}
      }
    },
    {
      "data": {"name": "crosses"},
      "mark": {"type": "point", "shape": "M-0.8,-0.8L0.8,0.8M0.8,-0.8L-0.8,0.8", "size": 1700, "filled": false, "stroke": "#f03c3c", "strokeWidth": 7, "strokeCap": "round", "opacity": 1},
      "encoding": {
        "x": {"field": "i", "type": "quantitative", "scale": {"domain": [-0.25, 940.5], "nice": false, "zero": false}},
        "y": {"field": "p", "type": "quantitative", "scale": {"domain": [69.389, 81.909], "nice": false, "zero": false}}
      }
    },
    {
      "data": {"name": "levels"},
      "mark": {"type": "rect", "height": 21, "yOffset": 5},
      "encoding": {
        "x": {"datum": 940.75, "type": "quantitative", "scale": {"domain": [-0.25, 940.5], "nice": false, "zero": false}},
        "x2": {"datum": 956},
        "y": {"field": "p", "type": "quantitative", "scale": {"domain": [69.389, 81.909], "nice": false, "zero": false}},
        "color": {"field": "kind", "type": "nominal", "legend": null}
      }
    },
    {
      "data": {"name": "levels"},
      "mark": {"type": "text", "font": "Liberation Sans", "fontSize": 17.5, "color": "#ffffff", "align": "center", "baseline": "middle", "yOffset": 5},
      "encoding": {
        "x": {"datum": 948.4, "type": "quantitative", "scale": {"domain": [-0.25, 940.5], "nice": false, "zero": false}},
        "y": {"field": "p", "type": "quantitative", "scale": {"domain": [69.389, 81.909], "nice": false, "zero": false}},
        "text": {"field": "p", "type": "quantitative", "format": ".2f"}
      }
    },
    {
      "data": {"name": "header"},
      "mark": {"type": "point", "shape": "triangle-down", "size": 70, "filled": true, "color": "#000000", "opacity": 1},
      "encoding": {
        "x": {"datum": 3, "type": "quantitative", "scale": {"domain": [-0.25, 940.5], "nice": false, "zero": false}},
        "y": {"datum": 81.806, "type": "quantitative", "scale": {"domain": [69.389, 81.909], "nice": false, "zero": false}}
      }
    },
    {
      "data": {"name": "header"},
      "mark": {"type": "text", "font": "Liberation Sans", "fontSize": 18.5, "color": "#000000", "align": "left", "baseline": "middle"},
      "encoding": {
        "x": {"datum": 7, "type": "quantitative", "scale": {"domain": [-0.25, 940.5], "nice": false, "zero": false}},
        "y": {"datum": 81.806, "type": "quantitative", "scale": {"domain": [69.389, 81.909], "nice": false, "zero": false}},
        "text": {"field": "t"}
      }
    },
    {
      "data": {"name": "header"},
      "mark": {"type": "point", "shape": "triangle-down", "size": 110, "filled": true, "color": "#a0a0a0", "opacity": 1},
      "encoding": {
        "x": {"datum": 676.5, "type": "quantitative", "scale": {"domain": [-0.25, 940.5], "nice": false, "zero": false}},
        "y": {"datum": 81.905, "type": "quantitative", "scale": {"domain": [69.389, 81.909], "nice": false, "zero": false}}
      }
    },
    {
      "data": {"name": "header"},
      "mark": {"type": "point", "shape": "M-0.58,-1L-0.58,0.68L-0.16,0.26L0.16,1L0.37,0.9L0.05,0.16L0.58,0.16Z", "size": 1444, "filled": true, "fill": "#ffffff", "stroke": "#000000", "strokeWidth": 1.5, "opacity": 1},
      "encoding": {
        "x": {"datum": 32, "type": "quantitative", "scale": {"domain": [-0.25, 940.5], "nice": false, "zero": false}},
        "y": {"datum": 76.36, "type": "quantitative", "scale": {"domain": [69.389, 81.909], "nice": false, "zero": false}}
      }
    }
  ]
}
